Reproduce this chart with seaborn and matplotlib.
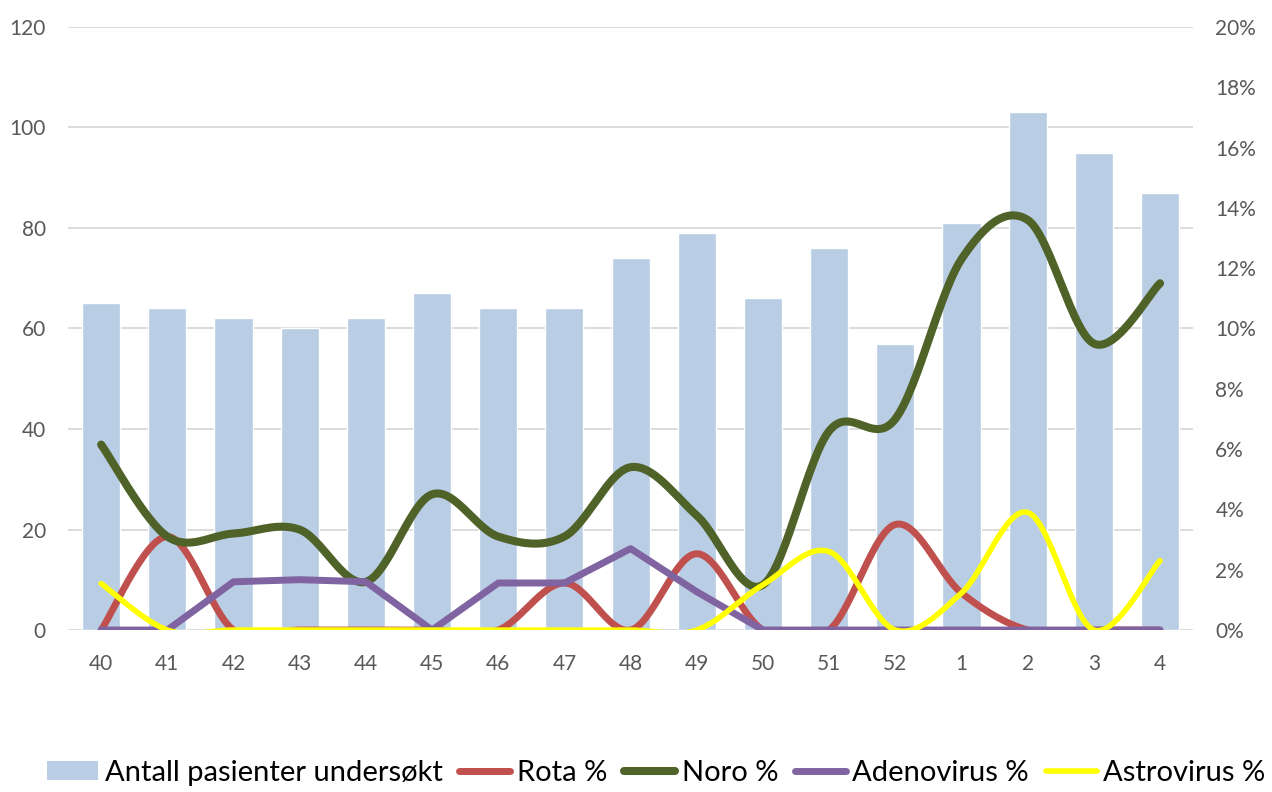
import numpy as np
import pandas as pd
import matplotlib
matplotlib.use("Agg")
import matplotlib.pyplot as plt
import seaborn as sns
from matplotlib.ticker import PercentFormatter, MultipleLocator
from matplotlib.lines import Line2D
from matplotlib.patches import Patch

weeks = ["40", "41", "42", "43", "44", "45", "46", "47", "48", "49", "50", "51", "52", "1", "2", "3", "4"]
patients = [65, 64, 62, 60, 62, 67, 64, 64, 74, 79, 66, 76, 57, 81, 103, 95, 87]
rota_pct = [0.0, 3.1, 0.0, 0.0, 0.0, 0.0, 0.0, 1.56, 0.0, 2.53, 0.0, 0.0, 3.5, 1.23, 0.0, 0.0, 0.0]
noro_pct = [6.15, 3.1, 3.2, 3.33, 1.6, 4.5, 3.1, 3.1, 5.4, 3.8, 1.5, 6.6, 7.0, 12.3, 13.6, 9.5, 11.5]
adeno_pct = [0.0, 0.0, 1.6, 1.67, 1.6, 0.0, 1.56, 1.56, 2.7, 1.27, 0.0, 0.0, 0.0, 0.0, 0.0, 0.0, 0.0]
astro_pct = [1.54, 0.0, 0.0, 0.0, 0.0, 0.0, 0.0, 0.0, 0.0, 0.0, 1.5, 2.6, 0.0, 1.23, 3.9, 0.0, 2.3]

series_names = ["Rota %", "Noro %", "Adenovirus %", "Astrovirus %"]
bar_name = "Antall pasienter undersøkt"

BAR_C = "#b9cde5"
ROTA_C = "#c0504d"
NORO_C = "#4f6228"
ADENO_C = "#8064a2"
ASTRO_C = "#ffff00"
TXT_C = "#595959"

LW_ROTA, LW_NORO, LW_ADENO, LW_ASTRO = 5.0, 5.8, 5.0, 4.0


def smooth(y, n=30):
    """Excel-like smoothed line (Catmull-Rom / cubic Bezier)."""
    y = np.asarray(y, float)
    x = np.arange(len(y), dtype=float)
    xs, ys = [], []
    for i in range(len(y) - 1):
        p0 = i - 1 if i > 0 else i
        p3 = i + 2 if i + 2 < len(y) else i + 1
        P = np.array([[x[p0], y[p0]], [x[i], y[i]], [x[i + 1], y[i + 1]], [x[p3], y[p3]]])
        c1 = P[1] + (P[2] - P[0]) / 6.0
        c2 = P[2] - (P[3] - P[1]) / 6.0
        t = np.linspace(0, 1, n, endpoint=(i == len(y) - 2))[:, None]
        B = ((1 - t) ** 3) * P[1] + 3 * ((1 - t) ** 2) * t * c1 + 3 * (1 - t) * t ** 2 * c2 + t ** 3 * P[2]
        xs.append(B[:, 0]); ys.append(B[:, 1])
    return np.concatenate(xs), np.concatenate(ys)


sns.set_theme(style="white")
plt.rcParams["font.family"] = ["Lato", "DejaVu Sans"]

fig = plt.figure(figsize=(12.72, 7.92), dpi=100)
ax = fig.add_axes([0.0535, 0.2045, 0.8845, 0.7615])

df = pd.DataFrame({"week": weeks, "patients": patients})
sns.barplot(data=df, x="week", y="patients", order=weeks, color=BAR_C, saturation=1,
            width=0.575, ax=ax, zorder=2)
ax.set_xlim(-0.5, len(weeks) - 0.5)
ax.set_ylim(0, 120)
ax.yaxis.set_major_locator(MultipleLocator(20))
ax.set_axisbelow(True)
ax.grid(axis="y", color="#d9d9d9", linewidth=1.3, zorder=0)
ax.grid(axis="x", visible=False)
ax.set_xlabel("")
ax.set_ylabel("")
for s in ax.spines.values():
    s.set_visible(False)
ax.tick_params(axis="both", length=0, labelsize=15, labelcolor=TXT_C)
ax.tick_params(axis="x", pad=17)
ax.tick_params(axis="y", pad=16)

ax2 = ax.twinx()
ax2.set_ylim(0, 20)
ax2.yaxis.set_major_locator(MultipleLocator(2))
ax2.yaxis.set_major_formatter(PercentFormatter(xmax=100, decimals=0))
for s in ax2.spines.values():
    s.set_visible(False)
ax2.tick_params(axis="y", length=0, labelsize=15, labelcolor=TXT_C, pad=16)
ax2.grid(False)

xs, ys = smooth(rota_pct)
ax2.plot(xs, ys, color=ROTA_C, lw=LW_ROTA, solid_capstyle="round", zorder=3)
xs, ys = smooth(noro_pct)
ax2.plot(xs, ys, color=NORO_C, lw=LW_NORO, solid_capstyle="round", zorder=4)
adf = pd.DataFrame({"x": np.arange(len(weeks)), "y": adeno_pct})
sns.lineplot(data=adf, x="x", y="y", color=ADENO_C, lw=LW_ADENO, ax=ax2, zorder=5,
             solid_capstyle="round")
xs, ys = smooth(astro_pct)
ax2.plot(xs, ys, color=ASTRO_C, lw=LW_ASTRO, solid_capstyle="round", zorder=6)
ax2.set_xlim(-0.5, len(weeks) - 0.5)
ax2.set_xlabel("")
ax2.set_ylabel("")

handles = [
    Patch(facecolor=BAR_C, edgecolor="none"),
    Line2D([], [], color=ROTA_C, lw=LW_ROTA),
    Line2D([], [], color=NORO_C, lw=LW_NORO),
    Line2D([], [], color=ADENO_C, lw=LW_ADENO),
    Line2D([], [], color=ASTRO_C, lw=LW_ASTRO),
]
labels = [bar_name] + series_names
fig.legend(handles, labels, loc="center", bbox_to_anchor=(0.516, 0.024), ncol=5,
           frameon=False, fontsize=21, handlelength=1.75, handleheight=0.65,
           handletextpad=0.22, columnspacing=0.58, labelcolor="black")

fig.savefig("out.png", dpi=100)
